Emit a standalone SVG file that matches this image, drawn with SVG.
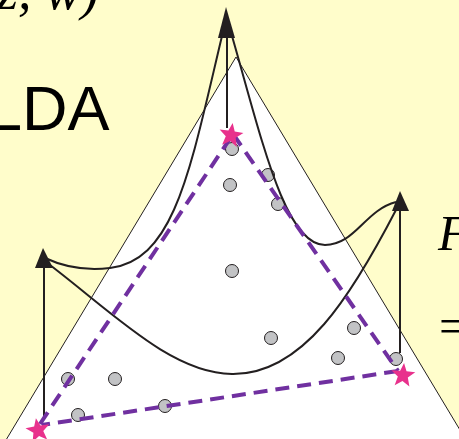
<svg xmlns="http://www.w3.org/2000/svg" width="459" height="439" viewBox="0 0 459 439">
<style>
.bg{fill:#FFFDCB}
.simplex{fill:#FFFFFF;stroke:#231F20;stroke-width:1}
.curve{fill:none;stroke:#231F20;stroke-width:2}
.dash{fill:none;stroke:#7030A0;stroke-width:4;stroke-dasharray:14 8}
.pt{fill:#C2C3C5;stroke:#231F20;stroke-width:1}
.head{fill:#231F20}
.star{fill:#E8318C}
.sans{font-family:"Liberation Sans",Arial,sans-serif;fill:#000}
.math{font-family:"Liberation Serif","Times New Roman",serif;font-style:italic;fill:#000}
.serif{font-family:"Liberation Serif","Times New Roman",serif;fill:#000}
</style>
<defs>
<polygon id="starshape" points="0,-12 3.2,-4 12,-3.8 5,2 7.4,11 0,6 -7.4,11 -5,2 -12,-3.8 -3.2,-4"/>
</defs>
<rect class="bg" x="0" y="0" width="459" height="439"/>
<polygon id="simplex" class="simplex" points="236,57 -6,460 478,460"/>
<text class="math" x="-3" y="9" font-size="54">z, w)</text>
<text class="sans" x="-13" y="130" font-size="63">LDA</text>
<text class="math" x="438" y="250" font-size="50">F</text>
<text class="serif" x="439" y="343" font-size="50">=</text>
<g id="points">
<circle class="pt" cx="232" cy="149" r="6.5"/>
<circle class="pt" cx="230" cy="185" r="6.5"/>
<circle class="pt" cx="268" cy="175" r="6.5"/>
<circle class="pt" cx="278" cy="204" r="6.5"/>
<circle class="pt" cx="232" cy="271" r="6.5"/>
<circle class="pt" cx="271" cy="338" r="6.5"/>
<circle class="pt" cx="354" cy="328" r="6.5"/>
<circle class="pt" cx="338" cy="358" r="6.5"/>
<circle class="pt" cx="396" cy="359" r="6.5"/>
<circle class="pt" cx="68" cy="379" r="6.5"/>
<circle class="pt" cx="115" cy="379" r="6.5"/>
<circle class="pt" cx="78" cy="415" r="6.5"/>
<circle class="pt" cx="165" cy="406" r="6.5"/>
</g>
<g id="connectors">
<path class="curve" d="M 222,36 C 190,170 175,260 110,268 C 85,271 62,266 45,258"/>
<path class="curve" d="M 232,36 C 262,140 285,245 325,245 C 355,245 365,210 396,202"/>
<path class="curve" d="M 46,262 C 110,310 170,373 232,374 C 303,375 352,295 397,208"/>
<line class="curve" x1="227" y1="36" x2="227" y2="128"/>
<line class="curve" x1="44" y1="266" x2="44" y2="420"/>
<line class="curve" x1="400" y1="209" x2="400" y2="353"/>
<path class="dash" d="M 40,424 L 233,134 M 233,134 L 398,371 M 398,371 L 42,425"/>
</g>
<g id="topic-top"><polygon class="head" points="226,7 218,38 235,38"/></g>
<g id="topic-left"><polygon class="head" points="43,248 35,268 53,268"/></g>
<g id="topic-right"><polygon class="head" points="400,191 392,211 409,211"/></g>
<g id="corner-top"><use href="#starshape" class="star" transform="translate(231,135) rotate(8)"/></g>
<g id="corner-left"><use href="#starshape" class="star" transform="translate(38,430) rotate(-10)"/></g>
<g id="corner-right"><use href="#starshape" class="star" transform="translate(403,375) rotate(5)"/></g>
</svg>
